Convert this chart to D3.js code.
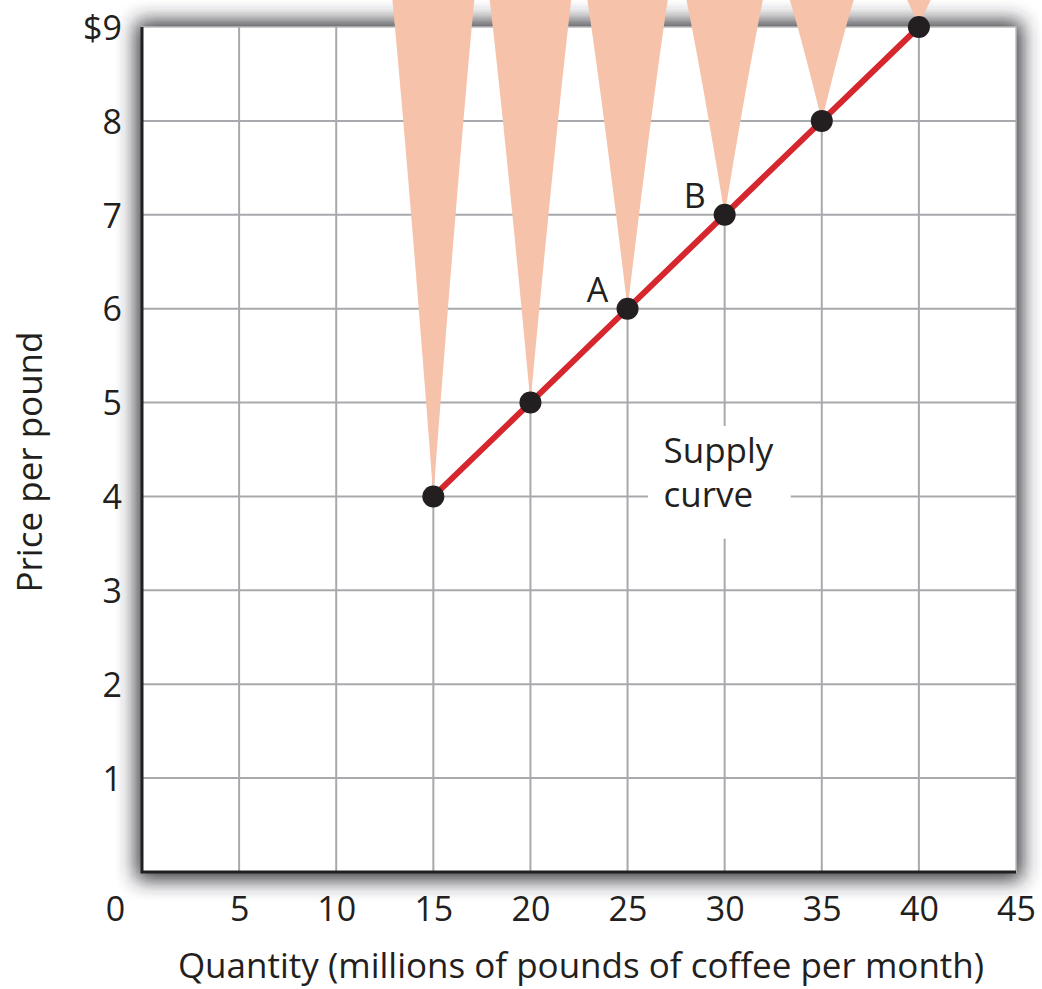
<!DOCTYPE html>
<html>
<head>
<meta charset="utf-8">
<script src="https://cdn.jsdelivr.net/npm/d3@7"></script>
<style>
  html, body { margin: 0; padding: 0; background: #fff; }
  svg { display: block; }
  text { font-family: "Open Sans", "Noto Sans", sans-serif; fill: #231f20; }
</style>
</head>
<body>
<svg id="chart" width="1042" height="989"></svg>
<script>
// ---- data ----
const quantities = [15, 20, 25, 30, 35, 40];
const prices = [4, 5, 6, 7, 8, 9];
const xTickValues = [0, 5, 10, 15, 20, 25, 30, 35, 40, 45];
const yTickValues = [1, 2, 3, 4, 5, 6, 7, 8, 9];
const yTickLabels = ["1", "2", "3", "4", "5", "6", "7", "8", "$9"];
const pointLabelIndex = [2, 3];
const pointLabelText = ["A", "B"];
const curveLabel = ["Supply", "curve"];
const xTitle = "Quantity (millions of pounds of coffee per month)";
const yTitle = "Price per pound";

// ---- layout ----
const svg = d3.select("#chart");
const pL = 142, pR = 1016, pT = 27, pB = 872;
const x = d3.scaleLinear().domain([0, 45]).range([pL, pR]);
const y = d3.scaleLinear().domain([0, 9]).range([pB, pT]);
const FS = 34;

const defs = svg.append("defs");
const f = defs.append("filter").attr("id", "shadow")
  .attr("x", -0.2).attr("y", -0.2).attr("width", 1.4).attr("height", 1.4);
f.append("feGaussianBlur").attr("stdDeviation", 10);

// shadow
svg.append("rect")
  .attr("x", pL - 6).attr("y", pT - 6).attr("width", pR - pL + 12).attr("height", pB - pT + 14)
  .attr("fill", "#2c2c31").attr("opacity", 0.95).attr("filter", "url(#shadow)");
// plot background
svg.append("rect")
  .attr("x", pL).attr("y", pT).attr("width", pR - pL).attr("height", pB - pT)
  .attr("fill", "#fff").attr("stroke", "#bdbdbd").attr("stroke-width", 1.5);

// grid
const grid = svg.append("g").attr("stroke", "#a7a9ac").attr("stroke-width", 2);
grid.selectAll("line.v").data(xTickValues.filter(d => d > 0 && d < 45)).join("line")
  .attr("class", "v")
  .attr("x1", d => x(d)).attr("x2", d => x(d)).attr("y1", pT).attr("y2", pB);
grid.selectAll("line.h").data(yTickValues.filter(d => d < 9)).join("line")
  .attr("class", "h")
  .attr("x1", pL).attr("x2", pR).attr("y1", d => y(d)).attr("y2", d => y(d));

// axes
const xAxis = d3.axisBottom(x).tickValues(xTickValues).tickSize(0).tickPadding(0);
const gx = svg.append("g").attr("transform", `translate(0,${pB})`).call(xAxis);
gx.select(".domain").remove();
gx.selectAll("text")
  .attr("font-size", FS).attr("dy", 49)
  .attr("x", d => d === 0 ? -27 : 0)
  .style("font-family", "'Open Sans', sans-serif").attr("fill", "#231f20");

const yAxis = d3.axisLeft(y).tickValues(yTickValues).tickSize(0).tickPadding(20)
  .tickFormat((d, i) => yTickLabels[i]);
const gy = svg.append("g").attr("transform", `translate(${pL},0)`).call(yAxis);
gy.select(".domain").remove();
gy.selectAll("text").attr("font-size", FS).attr("dy", "0.36em")
  .style("font-family", "'Open Sans', sans-serif").attr("fill", "#231f20");

// axis lines
svg.append("path")
  .attr("d", `M${pL},${pT}V${pB}H${pR}`)
  .attr("fill", "none").attr("stroke", "#231f20").attr("stroke-width", 3);

// cones
const pts = quantities.map((q, i) => ({ q, p: prices[i] }));
svg.append("g").selectAll("path").data(pts).join("path")
  .attr("fill", "#f6c2aa")
  .attr("d", d => {
    const px = x(d.q), py = y(d.p);
    const hw = 41 * (1 - Math.exp(-py / 80));
    const mw = hw * 0.6;
    return `M${px},${py} Q${px - mw},${py * 0.35} ${px - hw},0 H${px + hw} Q${px + mw},${py * 0.35} ${px},${py}Z`;
  });

// "Supply curve" label box
svg.append("rect")
  .attr("x", x(26.05)).attr("y", y(4.75)).attr("width", x(33.4) - x(26.05)).attr("height", y(3.55) - y(4.75))
  .attr("fill", "#fff");
svg.append("text").attr("y", y(4.1) - 24).attr("font-size", 35)
  .selectAll("tspan").data(curveLabel).join("tspan")
  .attr("x", x(26.85)).attr("dy", (d, i) => i === 0 ? 0 : 44).text(d => d);

// supply line
const line = d3.line().x(d => x(d.q)).y(d => y(d.p));
svg.append("path").datum(pts).attr("d", line)
  .attr("fill", "none").attr("stroke", "#d7272e").attr("stroke-width", 6);

// points
svg.append("g").selectAll("circle").data(pts).join("circle")
  .attr("cx", d => x(d.q)).attr("cy", d => y(d.p)).attr("r", 11)
  .attr("fill", "#231f20");

// A / B labels
svg.append("g").selectAll("text").data(pointLabelIndex).join("text")
  .attr("x", d => x(quantities[d]) - 30).attr("y", d => y(prices[d]) - 7)
  .attr("text-anchor", "middle").attr("font-size", FS)
  .text((d, i) => pointLabelText[i]);

// titles
svg.append("text").attr("x", 581).attr("y", 978).attr("text-anchor", "middle")
  .attr("font-size", 35).text(xTitle);
svg.append("text").attr("transform", `translate(42,${462}) rotate(-90)`)
  .attr("text-anchor", "middle").attr("font-size", 35).text(yTitle);
</script>
</body>
</html>
